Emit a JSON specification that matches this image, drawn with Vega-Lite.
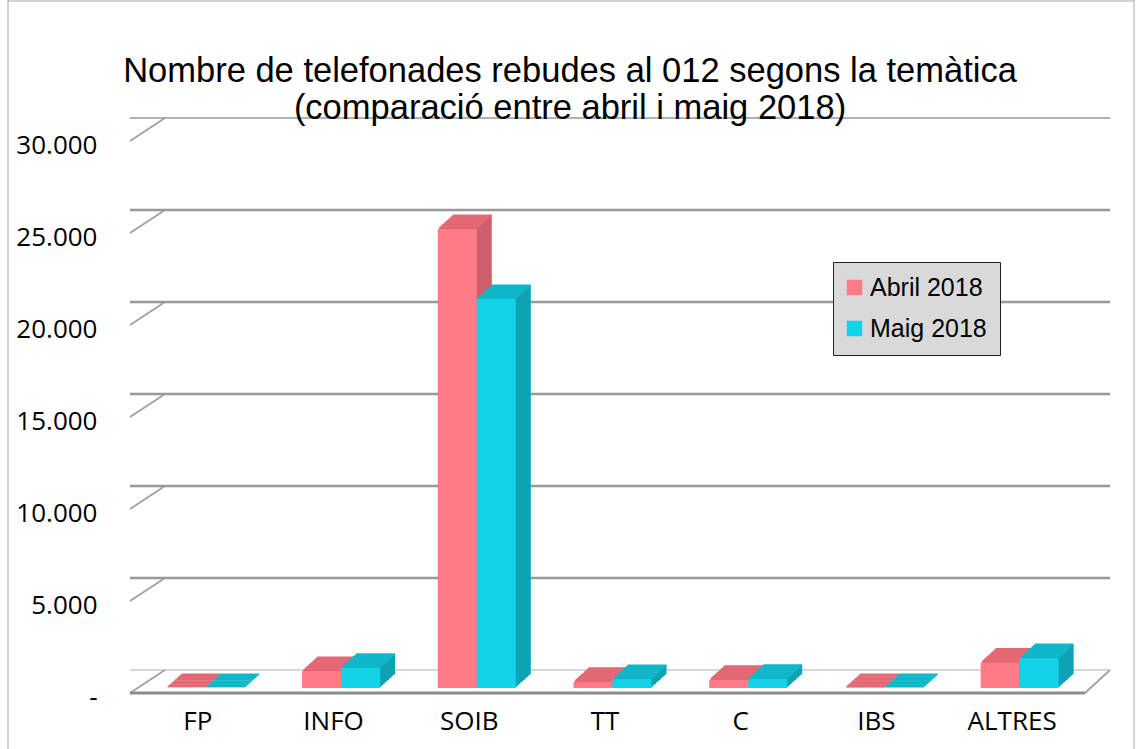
{
  "$schema": "https://vega.github.io/schema/vega-lite/v6.json",
  "width": 950,
  "height": 552,
  "autosize": {"type": "none"},
  "padding": {"left": 130, "top": 136, "right": 56, "bottom": 61},
  "background": "white",
  "title": {
    "text": ["Nombre de telefonades rebudes al 012 segons la temàtica", "(comparació entre abril i maig 2018)"],
    "anchor": "middle",
    "frame": "group",
    "dx": -35,
    "dy": 154,
    "offset": 0,
    "baseline": "alphabetic",
    "font": "Liberation Sans",
    "fontSize": 34.5,
    "fontWeight": "normal",
    "color": "#000000",
    "lineHeight": 37
  },
  "datasets": {
    "main": [
      {"cat": "FP", "serie": "Abril 2018", "value": 12},
      {"cat": "FP", "serie": "Maig 2018", "value": 10},
      {"cat": "INFO", "serie": "Abril 2018", "value": 930},
      {"cat": "INFO", "serie": "Maig 2018", "value": 1100},
      {"cat": "SOIB", "serie": "Abril 2018", "value": 24950},
      {"cat": "SOIB", "serie": "Maig 2018", "value": 21150},
      {"cat": "TT", "serie": "Abril 2018", "value": 345},
      {"cat": "TT", "serie": "Maig 2018", "value": 490},
      {"cat": "C", "serie": "Abril 2018", "value": 455},
      {"cat": "C", "serie": "Maig 2018", "value": 505},
      {"cat": "IBS", "serie": "Abril 2018", "value": 8},
      {"cat": "IBS", "serie": "Maig 2018", "value": 6},
      {"cat": "ALTRES", "serie": "Abril 2018", "value": 1390},
      {"cat": "ALTRES", "serie": "Maig 2018", "value": 1630}
    ],
    "grid": [
      {"value": 0}, {"value": 5000}, {"value": 10000}, {"value": 15000},
      {"value": 20000}, {"value": 25000}, {"value": 30000}
    ]
  },
  "config": {"view": {"stroke": null}, "font": "Liberation Sans"},
  "resolve": {"axis": {"x": "independent", "y": "independent"}},
  "layer": [
    {
      "data": {"name": "grid"},
      "mark": {"type": "rule", "xOffset": 30, "x2Offset": 35, "yOffset": -18},
      "encoding": {
        "y": {"field": "value", "type": "quantitative", "axis": null, "scale": {"domain": [0, 30000], "nice": false}},
        "color": {"condition": {"test": "datum.value == 0", "value": "#c8c8c8"}, "value": "#999999"},
        "strokeWidth": {"condition": {"test": "datum.value == 0 || datum.value == 30000", "value": 1.5}, "value": 2.6}
      }
    },
    {
      "data": {"name": "grid"},
      "mark": {"type": "rule", "x2Offset": 35, "yOffset": 5, "y2Offset": -18, "color": "#a0a0a0", "strokeWidth": 1.8},
      "encoding": {
        "x": {"datum": "FP", "type": "nominal", "bandPosition": 0, "axis": null, "scale": {"domain": ["FP", "INFO", "SOIB", "TT", "C", "IBS", "ALTRES"], "paddingInner": 0, "paddingOuter": 0}},
        "x2": {"datum": "FP", "bandPosition": 0},
        "y": {"field": "value", "type": "quantitative", "axis": null, "scale": {"domain": [0, 30000], "nice": false}},
        "y2": {"field": "value"}
      }
    },
    {
      "data": {"name": "grid"},
      "transform": [{"filter": "datum.value == 0"}],
      "mark": {"type": "rule", "yOffset": 5, "x2Offset": 5, "color": "#8c8c8c", "strokeWidth": 3},
      "encoding": {
        "x": {"datum": "FP", "type": "nominal", "bandPosition": 0, "axis": null, "scale": {"domain": ["FP", "INFO", "SOIB", "TT", "C", "IBS", "ALTRES"], "paddingInner": 0, "paddingOuter": 0}},
        "x2": {"datum": "ALTRES", "bandPosition": 1},
        "y": {"field": "value", "type": "quantitative", "axis": null, "scale": {"domain": [0, 30000], "nice": false}}
      }
    },
    {
      "data": {"name": "grid"},
      "transform": [{"filter": "datum.value == 0"}],
      "mark": {"type": "rule", "xOffset": 5, "x2Offset": 30, "yOffset": 5, "y2Offset": -18, "color": "#a0a0a0", "strokeWidth": 1.8},
      "encoding": {
        "x": {"datum": "ALTRES", "type": "nominal", "bandPosition": 1, "axis": null, "scale": {"domain": ["FP", "INFO", "SOIB", "TT", "C", "IBS", "ALTRES"], "paddingInner": 0, "paddingOuter": 0}},
        "x2": {"datum": "ALTRES", "bandPosition": 1},
        "y": {"field": "value", "type": "quantitative", "axis": null, "scale": {"domain": [0, 30000], "nice": false}},
        "y2": {"field": "value"}
      }
    },
    {
      "data": {"name": "grid"},
      "transform": [{"filter": "datum.value == 0"}],
      "mark": {"type": "rule", "xOffset": -122, "yOffset": 61, "y2Offset": -136, "color": "#a6a6a6", "strokeWidth": 1},
      "encoding": {
        "x": {"datum": "FP", "type": "nominal", "bandPosition": 0, "axis": null, "scale": {"domain": ["FP", "INFO", "SOIB", "TT", "C", "IBS", "ALTRES"], "paddingInner": 0, "paddingOuter": 0}},
        "y": {"datum": 0, "type": "quantitative", "axis": null, "scale": {"domain": [0, 30000], "nice": false}},
        "y2": {"datum": 30000}
      }
    },
    {
      "data": {"name": "grid"},
      "transform": [{"filter": "datum.value == 0"}],
      "mark": {"type": "rule", "xOffset": 54, "yOffset": 61, "y2Offset": -136, "color": "#a6a6a6", "strokeWidth": 1},
      "encoding": {
        "x": {"datum": "ALTRES", "type": "nominal", "bandPosition": 1, "axis": null, "scale": {"domain": ["FP", "INFO", "SOIB", "TT", "C", "IBS", "ALTRES"], "paddingInner": 0, "paddingOuter": 0}},
        "y": {"datum": 0, "type": "quantitative", "axis": null, "scale": {"domain": [0, 30000], "nice": false}},
        "y2": {"datum": 30000}
      }
    },
    {
      "data": {"name": "grid"},
      "transform": [{"filter": "datum.value == 30000"}],
      "mark": {"type": "rule", "xOffset": -122, "x2Offset": 54, "yOffset": -135, "color": "#a6a6a6", "strokeWidth": 1},
      "encoding": {
        "x": {"datum": "FP", "type": "nominal", "bandPosition": 0, "axis": null, "scale": {"domain": ["FP", "INFO", "SOIB", "TT", "C", "IBS", "ALTRES"], "paddingInner": 0, "paddingOuter": 0}},
        "x2": {"datum": "ALTRES", "bandPosition": 1},
        "y": {"field": "value", "type": "quantitative", "axis": null, "scale": {"domain": [0, 30000], "nice": false}}
      }
    },
    {
      "data": {"name": "main"},
      "encoding": {
        "x": {
          "field": "cat", "type": "nominal", "title": null,
          "scale": {"domain": ["FP", "INFO", "SOIB", "TT", "C", "IBS", "ALTRES"], "paddingInner": 0, "paddingOuter": 0},
          "axis": {"labelAngle": 0, "domain": false, "ticks": false, "grid": false, "labelFont": "Open Sans", "labelFontSize": 26, "labelColor": "#000000", "labelPadding": 20}
        },
        "y": {
          "field": "value", "type": "quantitative", "title": null,
          "scale": {"domain": [0, 30000], "nice": false},
          "axis": {"domain": false, "ticks": false, "grid": false, "values": [0, 5000, 10000, 15000, 20000, 25000, 30000],
                   "labelExpr": "datum.value == 0 ? '-' : replace(format(datum.value, ','), ',', '.')",
                   "labelFont": "Open Sans", "labelFontSize": 26, "labelColor": "#000000", "labelPadding": 33, "labelOffset": 9}
        }
      },
      "layer": [
        {
          "transform": [{"filter": "datum.serie == 'Abril 2018'"}],
          "layer": [
            {"mark": {"type": "bar", "width": 39, "xOffset": -10.5, "yOffset": -1.35, "y2Offset": -1.35, "color": "#cd5f6a"}},
            {"mark": {"type": "bar", "width": 39, "xOffset": -9, "yOffset": -2.7, "y2Offset": -2.7, "color": "#cd5f6a"}},
            {"mark": {"type": "bar", "width": 39, "xOffset": -7.5, "yOffset": -4.05, "y2Offset": -4.05, "color": "#cd5f6a"}},
            {"mark": {"type": "bar", "width": 39, "xOffset": -6, "yOffset": -5.4, "y2Offset": -5.4, "color": "#cd5f6a"}},
            {"mark": {"type": "bar", "width": 39, "xOffset": -4.5, "yOffset": -6.75, "y2Offset": -6.75, "color": "#cd5f6a"}},
            {"mark": {"type": "bar", "width": 39, "xOffset": -3, "yOffset": -8.1, "y2Offset": -8.1, "color": "#cd5f6a"}},
            {"mark": {"type": "bar", "width": 39, "xOffset": -1.5, "yOffset": -9.45, "y2Offset": -9.45, "color": "#cd5f6a"}},
            {"mark": {"type": "bar", "width": 39, "xOffset": 0, "yOffset": -10.8, "y2Offset": -10.8, "color": "#cd5f6a"}},
            {"mark": {"type": "bar", "width": 39, "xOffset": 1.5, "yOffset": -12.15, "y2Offset": -12.15, "color": "#cd5f6a"}},
            {"mark": {"type": "bar", "width": 39, "xOffset": 3, "yOffset": -13.5, "y2Offset": -13.5, "color": "#cd5f6a"}},
            {"mark": {"type": "tick", "orient": "horizontal", "size": 39, "thickness": 1.8, "opacity": 1, "xOffset": -10.5, "yOffset": -1.35, "color": "#e46975"}},
            {"mark": {"type": "tick", "orient": "horizontal", "size": 39, "thickness": 1.8, "opacity": 1, "xOffset": -9, "yOffset": -2.7, "color": "#e46975"}},
            {"mark": {"type": "tick", "orient": "horizontal", "size": 39, "thickness": 1.8, "opacity": 1, "xOffset": -7.5, "yOffset": -4.05, "color": "#e46975"}},
            {"mark": {"type": "tick", "orient": "horizontal", "size": 39, "thickness": 1.8, "opacity": 1, "xOffset": -6, "yOffset": -5.4, "color": "#e46975"}},
            {"mark": {"type": "tick", "orient": "horizontal", "size": 39, "thickness": 1.8, "opacity": 1, "xOffset": -4.5, "yOffset": -6.75, "color": "#e46975"}},
            {"mark": {"type": "tick", "orient": "horizontal", "size": 39, "thickness": 1.8, "opacity": 1, "xOffset": -3, "yOffset": -8.1, "color": "#e46975"}},
            {"mark": {"type": "tick", "orient": "horizontal", "size": 39, "thickness": 1.8, "opacity": 1, "xOffset": -1.5, "yOffset": -9.45, "color": "#e46975"}},
            {"mark": {"type": "tick", "orient": "horizontal", "size": 39, "thickness": 1.8, "opacity": 1, "xOffset": 0, "yOffset": -10.8, "color": "#e46975"}},
            {"mark": {"type": "tick", "orient": "horizontal", "size": 39, "thickness": 1.8, "opacity": 1, "xOffset": 1.5, "yOffset": -12.15, "color": "#e46975"}},
            {"mark": {"type": "tick", "orient": "horizontal", "size": 39, "thickness": 1.8, "opacity": 1, "xOffset": 3, "yOffset": -13.5, "color": "#e46975"}},
            {
              "mark": {"type": "bar", "width": 39, "xOffset": -12, "opacity": 1},
              "encoding": {
                "color": {"field": "serie", "type": "nominal",
                  "scale": {"domain": ["Abril 2018", "Maig 2018"], "range": ["#ff7b88", "#14d3e8"]},
                  "legend": {"orient": "none", "legendX": 703, "legendY": 126, "title": null, "padding": 13,
                    "fillColor": "#d9d9d9", "strokeColor": "#222222", "symbolType": "square", "symbolSize": 240,
                    "symbolStrokeWidth": 0, "symbolOffset": -4, "labelFont": "Liberation Sans", "labelFontSize": 25, "labelColor": "#000000",
                    "rowPadding": 15, "labelOffset": 3}
                }
              }
            }
          ]
        },
        {
          "transform": [{"filter": "datum.serie == 'Maig 2018'"}],
          "layer": [
            {"mark": {"type": "bar", "width": 39, "xOffset": 28.5, "yOffset": -1.35, "y2Offset": -1.35, "color": "#0ea3b4"}},
            {"mark": {"type": "bar", "width": 39, "xOffset": 30, "yOffset": -2.7, "y2Offset": -2.7, "color": "#0ea3b4"}},
            {"mark": {"type": "bar", "width": 39, "xOffset": 31.5, "yOffset": -4.05, "y2Offset": -4.05, "color": "#0ea3b4"}},
            {"mark": {"type": "bar", "width": 39, "xOffset": 33, "yOffset": -5.4, "y2Offset": -5.4, "color": "#0ea3b4"}},
            {"mark": {"type": "bar", "width": 39, "xOffset": 34.5, "yOffset": -6.75, "y2Offset": -6.75, "color": "#0ea3b4"}},
            {"mark": {"type": "bar", "width": 39, "xOffset": 36, "yOffset": -8.1, "y2Offset": -8.1, "color": "#0ea3b4"}},
            {"mark": {"type": "bar", "width": 39, "xOffset": 37.5, "yOffset": -9.45, "y2Offset": -9.45, "color": "#0ea3b4"}},
            {"mark": {"type": "bar", "width": 39, "xOffset": 39, "yOffset": -10.8, "y2Offset": -10.8, "color": "#0ea3b4"}},
            {"mark": {"type": "bar", "width": 39, "xOffset": 40.5, "yOffset": -12.15, "y2Offset": -12.15, "color": "#0ea3b4"}},
            {"mark": {"type": "bar", "width": 39, "xOffset": 42, "yOffset": -13.5, "y2Offset": -13.5, "color": "#0ea3b4"}},
            {"mark": {"type": "tick", "orient": "horizontal", "size": 39, "thickness": 1.8, "opacity": 1, "xOffset": 28.5, "yOffset": -1.35, "color": "#10b7c9"}},
            {"mark": {"type": "tick", "orient": "horizontal", "size": 39, "thickness": 1.8, "opacity": 1, "xOffset": 30, "yOffset": -2.7, "color": "#10b7c9"}},
            {"mark": {"type": "tick", "orient": "horizontal", "size": 39, "thickness": 1.8, "opacity": 1, "xOffset": 31.5, "yOffset": -4.05, "color": "#10b7c9"}},
            {"mark": {"type": "tick", "orient": "horizontal", "size": 39, "thickness": 1.8, "opacity": 1, "xOffset": 33, "yOffset": -5.4, "color": "#10b7c9"}},
            {"mark": {"type": "tick", "orient": "horizontal", "size": 39, "thickness": 1.8, "opacity": 1, "xOffset": 34.5, "yOffset": -6.75, "color": "#10b7c9"}},
            {"mark": {"type": "tick", "orient": "horizontal", "size": 39, "thickness": 1.8, "opacity": 1, "xOffset": 36, "yOffset": -8.1, "color": "#10b7c9"}},
            {"mark": {"type": "tick", "orient": "horizontal", "size": 39, "thickness": 1.8, "opacity": 1, "xOffset": 37.5, "yOffset": -9.45, "color": "#10b7c9"}},
            {"mark": {"type": "tick", "orient": "horizontal", "size": 39, "thickness": 1.8, "opacity": 1, "xOffset": 39, "yOffset": -10.8, "color": "#10b7c9"}},
            {"mark": {"type": "tick", "orient": "horizontal", "size": 39, "thickness": 1.8, "opacity": 1, "xOffset": 40.5, "yOffset": -12.15, "color": "#10b7c9"}},
            {"mark": {"type": "tick", "orient": "horizontal", "size": 39, "thickness": 1.8, "opacity": 1, "xOffset": 42, "yOffset": -13.5, "color": "#10b7c9"}},
            {
              "mark": {"type": "bar", "width": 39, "xOffset": 27, "opacity": 1},
              "encoding": {
                "color": {"field": "serie", "type": "nominal",
                  "scale": {"domain": ["Abril 2018", "Maig 2018"], "range": ["#ff7b88", "#14d3e8"]}}
              }
            }
          ]
        }
      ]
    }
  ]
}
